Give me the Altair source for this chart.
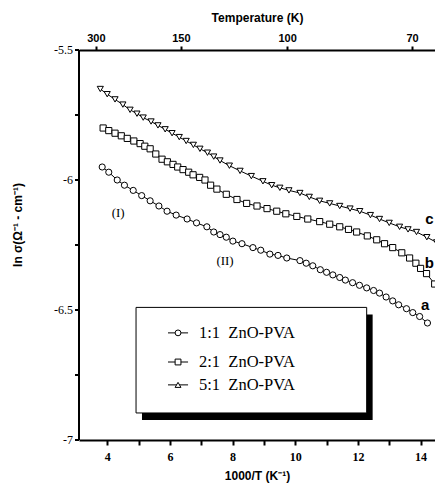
import altair as alt
import pandas as pd

# ---- data ----
x_a = [3.84, 4.05, 4.32, 4.55, 4.83, 5.1, 5.37, 5.65, 5.91, 6.2, 6.55, 6.85, 7.18, 7.4, 7.6,
       7.8, 8.01, 8.3, 8.65, 8.9, 9.19, 9.45, 9.73, 10.15, 10.35, 10.56, 10.8, 11.0, 11.2, 11.42,
       11.6, 11.83, 12.05, 12.28, 12.5, 12.69, 12.9, 13.11, 13.3, 13.55, 13.75, 13.97, 14.22]
y_a = [-5.95, -5.97, -6.00, -6.02, -6.04, -6.06, -6.08, -6.10, -6.12, -6.135, -6.15, -6.165, -6.18, -6.20, -6.21,
       -6.22, -6.235, -6.245, -6.26, -6.27, -6.285, -6.29, -6.30, -6.31, -6.32, -6.33, -6.345, -6.355, -6.365, -6.375,
       -6.385, -6.395, -6.405, -6.415, -6.425, -6.435, -6.45, -6.465, -6.48, -6.495, -6.51, -6.525, -6.55]

x_b = [3.87, 4.05, 4.25, 4.45, 4.64, 4.85, 5.05, 5.2, 5.37, 5.55, 5.75, 5.92, 6.1, 6.25, 6.42,
       6.6, 6.74, 6.95, 7.12, 7.3, 7.5, 7.8, 8.14, 8.45, 8.78, 9.1, 9.41, 9.7, 10.05, 10.4,
       10.78, 11.1, 11.42, 11.7, 11.96, 12.3, 12.6, 12.85, 13.11, 13.4, 13.65, 13.85, 14.0, 14.19, 14.45]
y_b = [-5.80, -5.81, -5.82, -5.83, -5.84, -5.85, -5.86, -5.87, -5.88, -5.90, -5.92, -5.93, -5.94, -5.95, -5.96,
       -5.97, -5.98, -5.99, -6.00, -6.02, -6.035, -6.055, -6.075, -6.09, -6.10, -6.11, -6.12, -6.13, -6.14, -6.15,
       -6.16, -6.17, -6.18, -6.19, -6.20, -6.215, -6.23, -6.245, -6.26, -6.28, -6.30, -6.32, -6.34, -6.36, -6.40]

x_c = [3.78, 4.0, 4.25, 4.5, 4.73, 4.95, 5.15, 5.4, 5.62, 5.85, 6.07, 6.3, 6.52, 6.75, 6.96,
       7.2, 7.4, 7.6, 7.9, 8.24, 8.6, 8.97, 9.25, 9.51, 9.8, 10.15, 10.45, 10.78, 11.1, 11.42,
       11.75, 12.06, 12.4, 12.69, 13.0, 13.33, 13.6, 13.87, 14.2, 14.51]
y_c = [-5.65, -5.67, -5.69, -5.71, -5.73, -5.745, -5.76, -5.775, -5.79, -5.805, -5.82, -5.835, -5.85, -5.865, -5.88,
       -5.895, -5.91, -5.925, -5.945, -5.965, -5.985, -6.005, -6.02, -6.03, -6.04, -6.05, -6.065, -6.08, -6.09, -6.10,
       -6.11, -6.12, -6.135, -6.15, -6.165, -6.18, -6.19, -6.20, -6.22, -6.24]

series_names = ["a", "b", "c"]
series_shapes = ["circle", "square", "triangle-down"]

x_ticks = [4, 5, 6, 7, 8, 9, 10, 11, 12, 13, 14]
y_ticks = [-5.5, -5.75, -6.0, -6.25, -6.5, -6.75, -7.0]
y_label_vals = [-5.5, -6.0, -6.5, -7.0]
y_label_text = ["-5.5", "-6", "-6.5", "-7"]
y_title = "ln \u03c3(\u03a9\u207b\u00b9 - cm\u207b\u00b9)"
# top (temperature) axis: labels and where the reference puts their ticks on the 1000/T scale
temp_labels = ["300", "150", "100", "70"]
temp_pos = [3.64, 6.35, 9.74, 13.73]

# annotations
reg_text = ["(I)", "(II)"]
reg_x = [4.35, 7.76]
reg_y = [-6.127, -6.31]
curve_text = ["c", "b", "a"]
curve_x = [14.28, 14.28, 14.15]
curve_y = [-6.15, -6.32, -6.48]

# legend box (drawn inside the plot)
leg_labels = ["1:1\u00a0\u00a0ZnO-PVA", "2:1\u00a0\u00a0ZnO-PVA", "5:1\u00a0\u00a0ZnO-PVA"]
leg_shapes = ["circle", "square", "triangle-up"]
leg_y = [-6.588, -6.70, -6.788]
leg_box = dict(x=4.92, x2=12.28, y=-6.49, y2=-6.896)
leg_shadow = dict(x=5.11, x2=12.47, y=-6.517, y2=-6.923)
leg_line_x = [5.94, 6.58]
leg_sym_x = 6.26
leg_text_x = 6.93

# ---- tables ----
df = pd.concat([
    pd.DataFrame({"x": x_a, "y": y_a, "s": "a"}),
    pd.DataFrame({"x": x_b, "y": y_b, "s": "b"}),
    pd.DataFrame({"x": x_c, "y": y_c, "s": "c"}),
])
reg = pd.DataFrame({"t": reg_text, "x": reg_x, "y": reg_y})
cur = pd.DataFrame({"t": curve_text, "x": curve_x, "y": curve_y})
leg = pd.DataFrame({"lab": leg_labels, "shape": leg_shapes, "y": leg_y,
                    "x1": leg_line_x[0], "x2": leg_line_x[1], "xs": leg_sym_x, "xt": leg_text_x})
box = pd.DataFrame([leg_box])
shadow = pd.DataFrame([leg_shadow])
temps = pd.DataFrame({"lab": temp_labels, "x": temp_pos})
label_map = "{" + ",".join(f"'{p}':'{l}'" for p, l in zip(temp_pos, temp_labels)) + "}"
yt = pd.DataFrame({"y": y_ticks})
yl = pd.DataFrame({"y": y_label_vals, "t": y_label_text})
ytitle = pd.DataFrame({"t": [y_title]})

XDOM = [3.1, 14.46]
YDOM = [-7.0, -5.5]
xs = alt.Scale(domain=XDOM, nice=False, zero=False)
ys = alt.Scale(domain=YDOM, nice=False, zero=False)

common = dict(domain=True, domainColor="black", domainWidth=2,
              ticks=True, tickColor="black", tickWidth=2,
              labelColor="black", titleColor="black", grid=False)

x_axis = alt.Axis(values=x_ticks, labelExpr="datum.value % 2 == 0 ? datum.value : ''",
                  title="1000/T (K\u207b\u00b9)",
                  labelFont="Liberation Serif", labelFontWeight="bold", labelFontSize=12,
                  labelPadding=6, tickSize=5, labelFlush=False,
                  titleFont="Liberation Sans", titleFontWeight="bold", titleFontSize=12,
                  titlePadding=8, **common)
top_axis = alt.Axis(orient="top", values=temp_pos, labelExpr=label_map + "['' + datum.value]",
                    title="Temperature (K)",
                    labelFont="Liberation Sans", labelFontWeight="bold",
                    labelFontSize=11, labelPadding=3, tickSize=4, labelFlush=False,
                    titleFont="Liberation Sans", titleFontWeight="bold",
                    titleFontSize=12, titlePadding=8, **common)

def Y(field):
    return alt.Y(field, scale=ys, axis=None)

def X(field):
    return alt.X(field, scale=xs, axis=None)

lines = alt.Chart(df).mark_line(color="black", strokeWidth=1).encode(
    x=alt.X("x:Q", scale=xs, axis=x_axis), y=Y("y:Q"), detail="s:N")
points = alt.Chart(df).mark_point(filled=False, fill="white", fillOpacity=1, stroke="black",
                                  strokeWidth=1, size=38, opacity=1).encode(
    x=X("x:Q"), y=Y("y:Q"),
    shape=alt.Shape("s:N", scale=alt.Scale(domain=series_names, range=series_shapes), legend=None))

reg_t = alt.Chart(reg).mark_text(font="Liberation Serif", fontSize=13, color="black").encode(
    x=X("x:Q"), y=Y("y:Q"), text="t:N")
cur_t = alt.Chart(cur).mark_text(font="Liberation Sans", fontWeight="bold", fontSize=15,
                                 color="black").encode(x=X("x:Q"), y=Y("y:Q"), text="t:N")

shadow_r = alt.Chart(shadow).mark_rect(color="black").encode(
    x=X("x:Q"), x2="x2:Q", y=Y("y:Q"), y2="y2:Q")
box_r = alt.Chart(box).mark_rect(fill="white", stroke="black", strokeWidth=1).encode(
    x=X("x:Q"), x2="x2:Q", y=Y("y:Q"), y2="y2:Q")
leg_lines = alt.Chart(leg).mark_rule(color="black", strokeWidth=1).encode(
    x=X("x1:Q"), x2="x2:Q", y=Y("y:Q"))
leg_pts = alt.Chart(leg).mark_point(filled=False, fill="white", fillOpacity=1, stroke="black",
                                    strokeWidth=1, size=34, opacity=1).encode(
    x=X("xs:Q"), y=Y("y:Q"), shape=alt.Shape("shape:N", scale=None, legend=None))
leg_txt = alt.Chart(leg).mark_text(align="left", baseline="middle", font="Liberation Serif",
                                   fontSize=16.5, color="black").encode(
    x=X("xt:Q"), y=Y("y:Q"), text="lab:N")

# left axis drawn with marks (line, ticks, labels, title)
y_dom = alt.Chart(box).mark_rule(color="black", strokeWidth=2).encode(
    x=alt.value(0), y=alt.value(0), y2=alt.value(390))
y_tk = alt.Chart(yt).mark_rule(color="black", strokeWidth=2).encode(
    x=alt.value(-4), x2=alt.value(0), y=Y("y:Q"))
y_lb = alt.Chart(yl).mark_text(align="right", baseline="middle", font="Liberation Serif",
                               fontSize=12, color="black").encode(
    x=alt.value(-6), y=Y("y:Q"), text="t:N")
y_tt = alt.Chart(ytitle).mark_text(angle=270, align="center", baseline="middle",
                                   font="Liberation Sans", fontWeight="bold", fontSize=12,
                                   color="black").encode(
    x=alt.value(-61), y=alt.value(175), text="t:N")

top = alt.Chart(temps).mark_point(opacity=0).encode(
    x=alt.X("x:Q", scale=xs, axis=top_axis), y=alt.value(0))

chart = alt.layer(lines, points, reg_t, cur_t, shadow_r, box_r, leg_lines, leg_pts, leg_txt,
                  y_dom, y_tk, y_lb, y_tt, top
                  ).resolve_axis(x="independent").properties(
    width=356, height=390,
    autosize=alt.AutoSizeParams(type="none"),
    padding={"left": 71, "top": 42, "right": 0, "bottom": 44},
).configure_view(stroke=None)

chart.save("out.html", embed_options={"renderer": "svg", "actions": False})
